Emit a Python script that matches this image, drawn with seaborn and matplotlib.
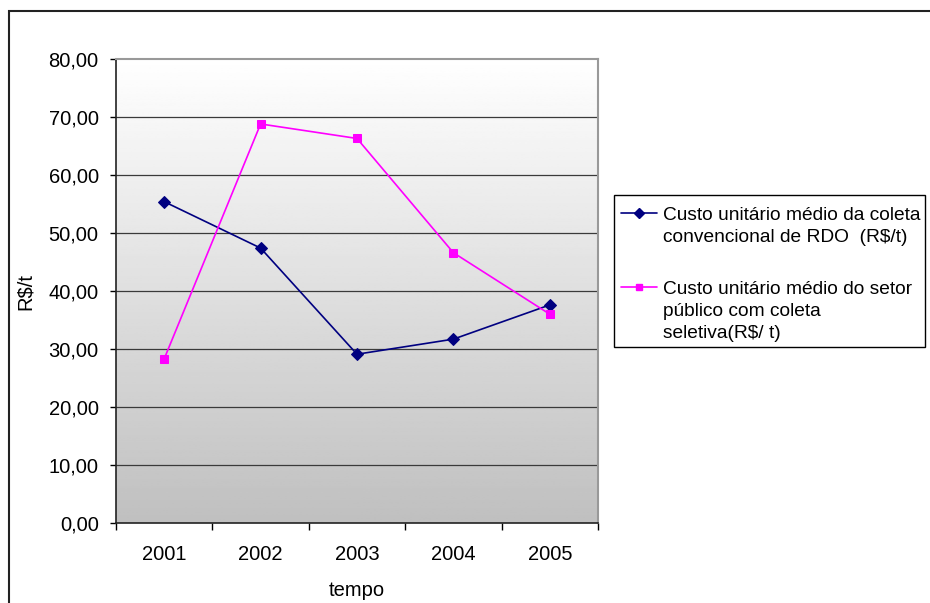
import numpy as np
import pandas as pd
import matplotlib
matplotlib.use("Agg")
import matplotlib.pyplot as plt
from matplotlib.patches import Rectangle
from matplotlib.lines import Line2D
import seaborn as sns

# Unit collection cost per year
anos = ["2001", "2002", "2003", "2004", "2005"]
custo_convencional = [55.4, 47.4, 29.1, 31.7, 37.6]
custo_seletiva = [28.3, 68.8, 66.3, 46.6, 36.0]
serie_convencional = "Custo unitário médio da coleta\nconvencional de RDO  (R$/t)"
serie_seletiva = "Custo unitário médio do setor\npúblico com coleta\nseletiva(R$/ t)"
y_ticks = [0, 10, 20, 30, 40, 50, 60, 70, 80]

sns.set_theme(style="white")
plt.rcParams["font.family"] = ["Liberation Sans", "DejaVu Sans"]

df = pd.DataFrame({
    "pos": list(range(len(anos))) * 2,
    "ano": anos * 2,
    "valor": custo_convencional + custo_seletiva,
    "serie": [serie_convencional] * len(anos) + [serie_seletiva] * len(anos),
})

W, H = 930, 603
fig = plt.figure(figsize=(W / 100, H / 100), dpi=100)
fig.patch.set_facecolor("white")
ax = fig.add_axes([116 / W, 1 - 523 / H, (598 - 116) / W, (523 - 59) / H])

# vertical gray gradient behind the plot area
grad = np.linspace(0.75, 1.0, 256).reshape(-1, 1)
ax.imshow(grad, extent=[-0.5, 4.5, 0, 80], origin="lower", cmap="gray",
          vmin=0, vmax=1, aspect="auto", zorder=0)

for y in y_ticks[1:-1]:
    ax.axhline(y, color="#3a3a3a", lw=0.9, zorder=1)

estilos = {
    serie_convencional: dict(color="#000080", marker="D", ms=6.5),
    serie_seletiva: dict(color="#ff00ff", marker="s", ms=6),
}
for nome, st in estilos.items():
    sub = df[df["serie"] == nome]
    sns.lineplot(data=sub, x="pos", y="valor", ax=ax, color=st["color"],
                 marker=st["marker"], markersize=st["ms"],
                 markeredgecolor=st["color"], markerfacecolor=st["color"],
                 lw=1.2, legend=False, zorder=3)

ax.set_xlim(-0.5, 4.5)
ax.set_ylim(0, 80)
ax.set_yticks(y_ticks)
ax.set_yticklabels([f"{v:.2f}".replace(".", ",") for v in y_ticks])
ax.set_xticks(range(len(anos)))
ax.set_xticklabels(anos)
ax.set_xticks(np.arange(-0.5, len(anos), 1.0), minor=True)
ax.tick_params(axis="x", which="major", length=0, pad=16, labelsize=14.5, colors="black")
ax.tick_params(axis="x", which="minor", length=5, width=1, color="black", direction="out", bottom=True)
ax.tick_params(axis="y", which="major", length=4.5, width=1, color="black", direction="out",
               left=True, pad=8, labelsize=14.5, labelcolor="black")

ax.set_xlabel("tempo", fontsize=14.5, labelpad=12, color="black")
ax.set_ylabel("R$/t", fontsize=14.5, labelpad=10, color="black")

for side in ["left", "bottom"]:
    ax.spines[side].set_color("#222222")
    ax.spines[side].set_linewidth(1.2)
for side in ["top", "right"]:
    ax.spines[side].set_color("#999999")
    ax.spines[side].set_linewidth(1.5)
ax.grid(False)

# legend box on the right
def fx(px):
    return px / W

def fy(py):
    return 1 - py / H

fig.add_artist(Rectangle((fx(614), fy(347)), fx(925) - fx(614), fy(195) - fy(347),
                         transform=fig.transFigure, fill=False, edgecolor="black", lw=1))
for nome, ytop in [(serie_convencional, 213), (serie_seletiva, 287)]:
    st = estilos[nome]
    fig.add_artist(Line2D([fx(621), fx(657)], [fy(ytop), fy(ytop)], transform=fig.transFigure,
                          color=st["color"], lw=1.2))
    fig.add_artist(Line2D([fx(639)], [fy(ytop)], transform=fig.transFigure,
                          color=st["color"], marker=st["marker"], ms=st["ms"] - 1,
                          markeredgecolor=st["color"]))
    fig.text(fx(663), fy(ytop - 6), nome, transform=fig.transFigure, fontsize=13.8,
             va="top", ha="left", linespacing=1.4, color="black")

# outer chart frame
fig.add_artist(Rectangle((fx(8.5), -0.1), 1.2, fy(11.5) + 0.1, transform=fig.transFigure,
                         fill=False, edgecolor="#222222", lw=1.5))

fig.savefig("out.png", dpi=100)
